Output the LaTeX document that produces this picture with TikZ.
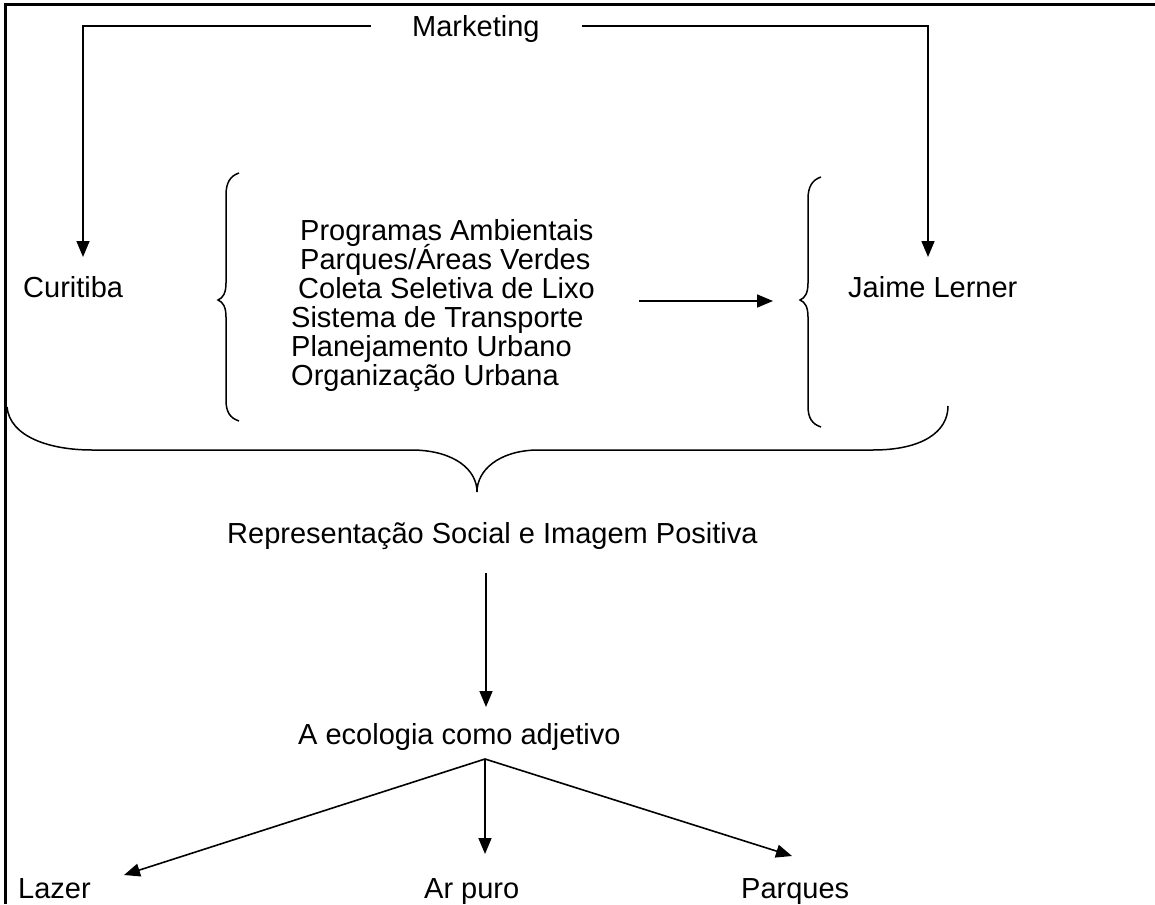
\documentclass[tikz,border=0pt]{standalone}
\usepackage{fontspec}
\setmainfont{Liberation Sans}
\usetikzlibrary{arrows.meta}
\begin{document}
\begin{tikzpicture}[x=1pt,y=-1pt,
  every node/.style={font=\fontsize{29}{32}\selectfont, inner sep=0pt, anchor=base west},
  ln/.style={line width=1.6pt},
  arr/.style={ln,-{Triangle[length=16pt,width=13pt]}},
  brace/.style={line width=1.5pt}]
\useasboundingbox (0,0) rectangle (1155,904);
\draw[line width=3pt] (1155,4.5) -- (5.5,4.5) -- (5.5,904);

% texts
\node (mkt) at (412,37) {Marketing};
\node (cur) at (23,297) {Curitiba};
\node (jai) at (848,297) {Jaime Lerner};
\node (l1) at (300,240) {Programas Ambientais};
\node (l2) at (300,269) {Parques/Áreas Verdes};
\node (l3) at (298,298) {Coleta Seletiva de Lixo};
\node (l4) at (291,327) {Sistema de Transporte};
\node (l5) at (291,356) {Planejamento Urbano};
\node (l6) at (291,385) {Organização Urbana};
\node (rep) at (227,543) {Representação Social e Imagem Positiva};
\node (eco) at (298,744) {A ecologia como adjetivo};
\node (laz) at (18,898) {Lazer};
\node (ar) at (424,898) {Ar puro};
\node (par) at (741,898) {Parques};

% marketing connectors
\coordinate (mL) at (371,26);
\coordinate (mR) at (582,26);
\coordinate (curtip) at (83,257);
\coordinate (jaitip) at (928,257);
\draw[arr] (mL) -| (curtip);
\draw[arr] (mR) -| (jaitip);

% small braces
\draw[brace] (239,173) .. controls (230,176) and (226,183) .. (226,195)
  -- (226,283) .. controls (226,293) and (223,298) .. (218,300)
  .. controls (223,302) and (226,307) .. (226,317)
  -- (226,400) .. controls (226,412) and (230,418) .. (239,421);
\draw[brace] (821,177) .. controls (812,180) and (808,187) .. (808,199)
  -- (808,283) .. controls (808,293) and (805,298) .. (800,300)
  .. controls (805,302) and (808,307) .. (808,317)
  -- (808,406) .. controls (808,418) and (812,424) .. (821,427);

% horizontal arrow
\coordinate (hS) at (639,301);
\coordinate (hE) at (773,301);
\draw[arr] (hS) -- (hE);

% big brace
\draw[brace] (7,407) .. controls (10,437) and (50,450) .. (92,450)
  -- (414,450) .. controls (455,451) and (477,470) .. (477,492)
  .. controls (477,470) and (499,451) .. (536,450)
  -- (873,450) .. controls (922,450) and (948,432) .. (948,406);

% lower arrows
\coordinate (r1) at (486,573);
\coordinate (r2) at (486,707);
\draw[arr] (r1) -- (r2);
\coordinate (fork) at (485,759);
\coordinate (t1) at (124,875);
\coordinate (t2) at (485,854);
\coordinate (t3) at (792,856);
\draw[arr] (fork) -- (t1);
\draw[arr] (fork) -- (t2);
\draw[arr] (fork) -- (t3);
\end{tikzpicture}
\end{document}
